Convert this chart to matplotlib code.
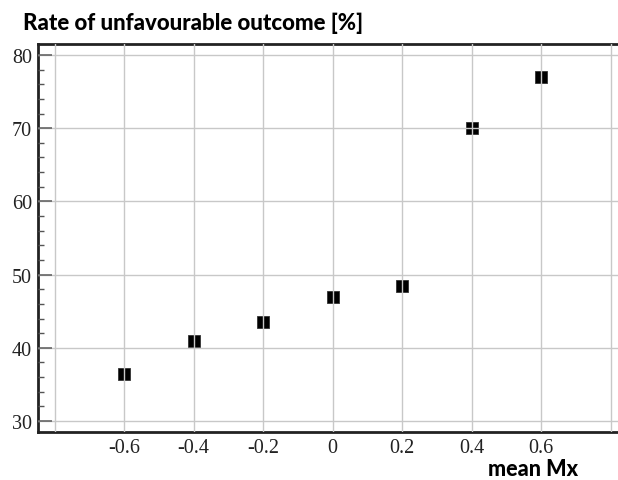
import matplotlib
matplotlib.use("Agg")
import matplotlib.pyplot as plt
from matplotlib.ticker import MultipleLocator

# data
mean_mx = [-0.6, -0.4, -0.2, 0.0, 0.2, 0.4, 0.6]
rate_pct = [36.4, 40.9, 43.5, 47.0, 48.4, 70.0, 77.0]
x_ticks = [-0.8, -0.6, -0.4, -0.2, 0.0, 0.2, 0.4, 0.6, 0.8]
x_tick_labels = ["", "-0.6", "-0.4", "-0.2", "0", "0.2", "0.4", "0.6", ""]
y_ticks = [30, 40, 50, 60, 70, 80]

fig = plt.figure(figsize=(6.18, 4.81), dpi=100)
ax = fig.add_axes([0.0615, 0.0998, 0.9385, 0.8066])

ax.plot(mean_mx, rate_pct, linestyle="none", marker="s", markersize=8.6,
        color="black", markeredgecolor="#333333", markeredgewidth=0.6, zorder=2)

ax.set_xlim(-0.8476, 0.821)
ax.set_ylim(28.5, 81.5)

# grid (drawn over the markers, like the original)
ax.set_axisbelow(False)
ax.set_xticks(x_ticks)
ax.set_xticklabels(x_tick_labels)
ax.set_yticks(y_ticks)
ax.yaxis.set_minor_locator(MultipleLocator(2))
ax.grid(True, color="#c8c8c8", linewidth=1.0, zorder=2.5)

ax.tick_params(axis="both", labelsize=14.5, labelfontfamily="Liberation Serif",
               labelcolor="#222222")
ax.tick_params(axis="x", length=0, pad=4)
ax.tick_params(axis="y", which="major", direction="in", length=10, width=1.2,
               color="#666666", pad=4.3)
ax.tick_params(axis="y", which="minor", direction="in", length=4, width=1,
               color="#555555")

for side in ["left", "top", "bottom"]:
    ax.spines[side].set_linewidth(2)
    ax.spines[side].set_color("#222222")
ax.spines["right"].set_visible(False)

fig.text(0.037, 1 - 30 / 481, "Rate of unfavourable outcome [%]", fontfamily="Lato",
         fontweight=900, fontsize=16, ha="left", va="baseline")
fig.text(578 / 618, 1 - 476 / 481, "mean Mx", fontfamily="Lato", fontweight=900,
         fontsize=15.5, ha="right", va="baseline")

fig.savefig("out.png", dpi=100)
